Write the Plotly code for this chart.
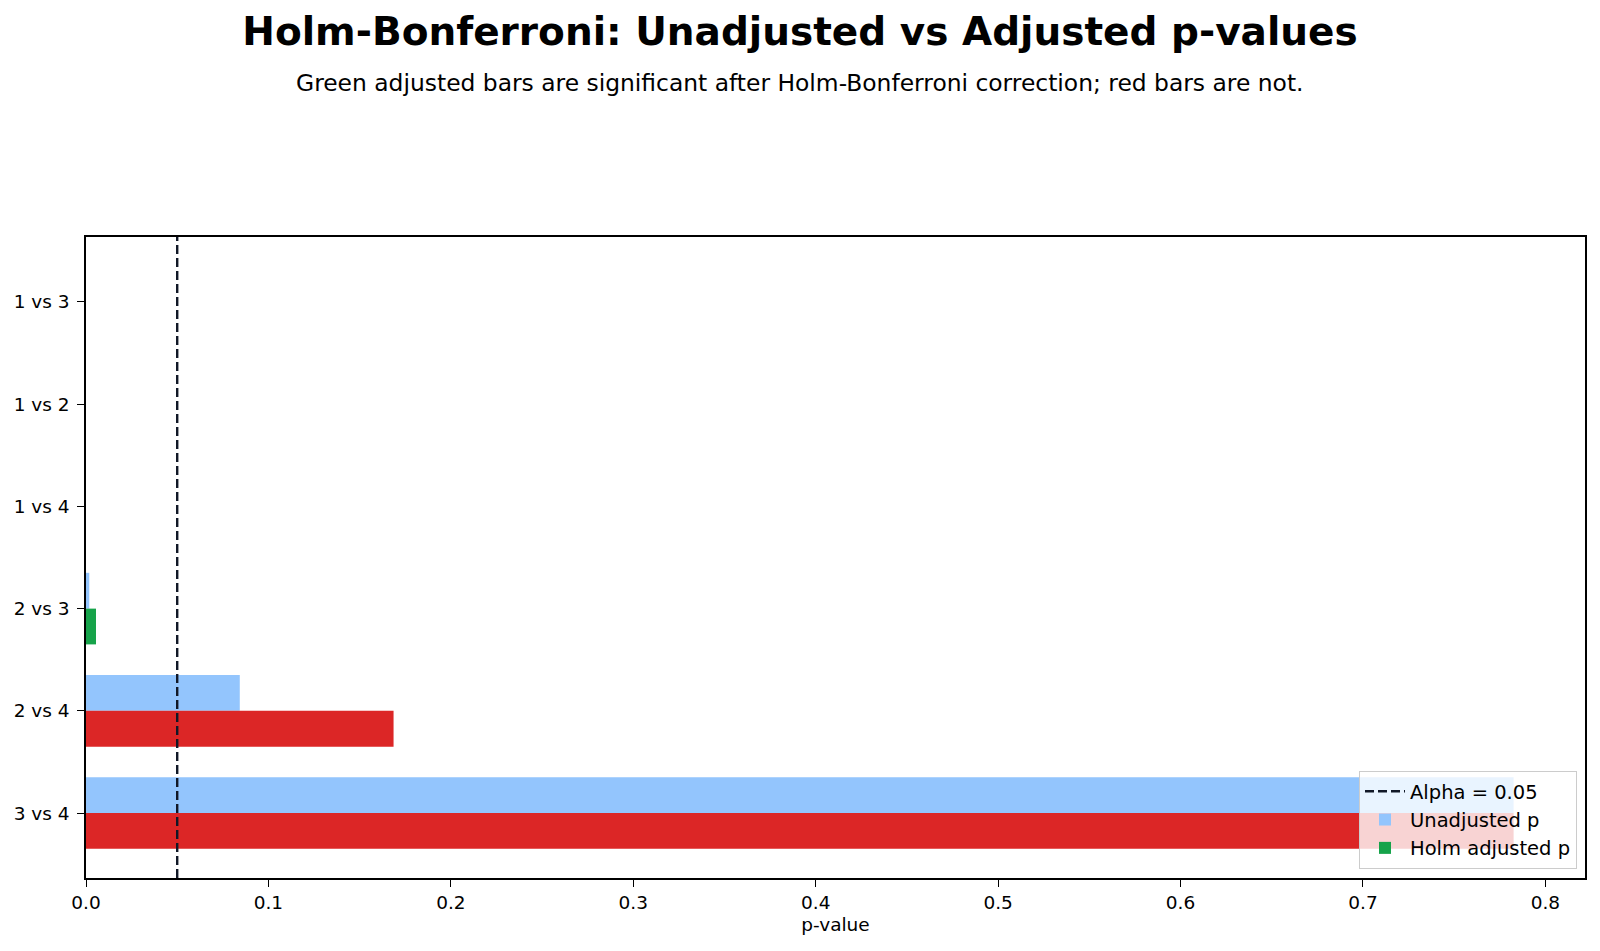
import plotly.graph_objects as go

# ---- data ----
comparisons = ["1 vs 3", "1 vs 2", "1 vs 4", "2 vs 3", "2 vs 4", "3 vs 4"]
unadjusted_p = [1e-9, 2e-8, 1e-7, 0.0018, 0.0843, 0.7826]
holm_adjusted_p = [6e-9, 1e-7, 4e-7, 0.0055, 0.1686, 0.7826]
alpha = 0.05
x_ticks = [0.0, 0.1, 0.2, 0.3, 0.4, 0.5, 0.6, 0.7, 0.8]

BLUE = "#93C5FD"
GREEN = "#16A34A"
RED = "#DC2626"
LINE = "#111827"
FONT = "DejaVu Sans"
FS = 18.5

adj_colors = [GREEN if p < alpha else RED for p in holm_adjusted_p]

fig = go.Figure()

# legend entry for alpha line
fig.add_trace(go.Scatter(
    x=[None], y=[None], mode="lines", name=f"Alpha = {alpha}",
    line=dict(color=LINE, width=2.4, dash="9px,4px"), showlegend=True,
))
fig.add_trace(go.Bar(
    y=comparisons, x=unadjusted_p, orientation="h", name="Unadjusted p",
    marker=dict(color=BLUE, line=dict(width=0)),
))
fig.add_trace(go.Bar(
    y=comparisons, x=holm_adjusted_p, orientation="h", name="Holm adjusted p",
    marker=dict(color=adj_colors, line=dict(width=0)),
))

fig.add_vline(x=alpha, line=dict(color=LINE, width=2.4, dash="9px,4px"), layer="above")

L, R, T, B = 86, 15, 237, 73
W, H = 1600, 951
pw, ph = W - L - R, H - T - B

fig.update_layout(
    width=W, height=H,
    margin=dict(l=L, r=R, t=T, b=B, pad=0),
    paper_bgcolor="white", plot_bgcolor="white",
    barmode="group", bargap=0.3, bargroupgap=0,
    font=dict(family=FONT, size=FS, color="black"),
    title=dict(
        text="<b>Holm-Bonferroni: Unadjusted vs Adjusted p-values</b>",
        x=0.5, xref="container", xanchor="center",
        y=1 - 31 / H, yref="container", yanchor="middle",
        font=dict(family=FONT, size=39, color="black"),
    ),
    legend=dict(
        x=(1577 - L) / pw, y=(H - B - 869) / ph, xanchor="right", yanchor="bottom",
        bgcolor="rgba(255,255,255,0.8)", bordercolor="#cccccc", borderwidth=1,
        font=dict(family=FONT, size=19.5, color="black"),
        traceorder="normal", itemwidth=40,
    ),
    xaxis=dict(
        range=[0, max(holm_adjusted_p + unadjusted_p) * 1.05],
        tickvals=x_ticks, ticktext=[f"{v:.1f}" for v in x_ticks],
        ticks="outside", ticklen=7, tickwidth=1.2, tickcolor="black",
        showline=True, linecolor="black", linewidth=1.5, mirror=True,
        showgrid=False, zeroline=False,
        title=dict(text="p-value", standoff=6, font=dict(family=FONT, size=FS)),
        tickfont=dict(family=FONT, size=FS),
    ),
    yaxis=dict(
        type="category", categoryorder="array", categoryarray=comparisons,
        range=[len(comparisons) - 1 + 0.635, -0.635],
        ticks="outside", ticklen=7, tickwidth=1.2, tickcolor="black",
        showline=True, linecolor="black", linewidth=1.5, mirror=True,
        showgrid=False, zeroline=False,
        tickfont=dict(family=FONT, size=FS),
        ticklabelstandoff=4,
    ),
)

fig.add_annotation(
    text="Green adjusted bars are significant after Holm-Bonferroni correction; red bars are not.",
    xref="paper", yref="paper",
    x=(800 - L) / pw, y=(H - B - 83) / ph,
    xanchor="center", yanchor="middle", showarrow=False,
    font=dict(family=FONT, size=23.4, color="black"),
)

fig.write_html("out.html")
